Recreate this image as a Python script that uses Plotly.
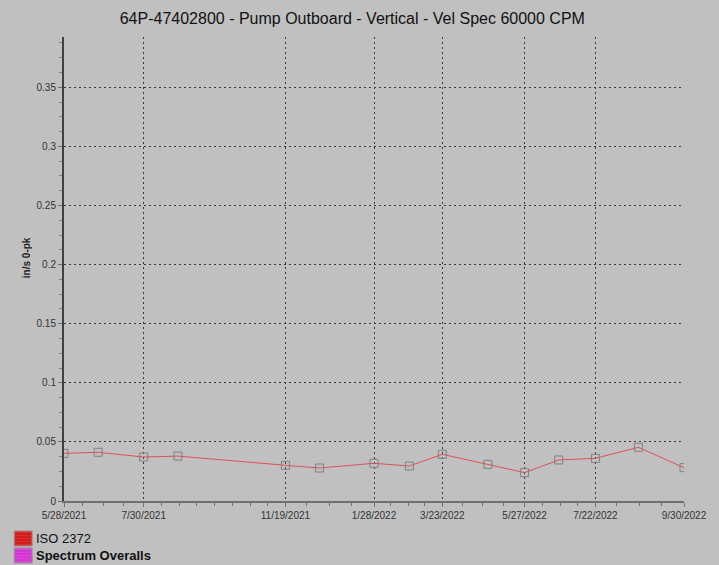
import plotly.graph_objects as go
from datetime import date, timedelta

# ---- data ----
dates = ["2021-05-28", "2021-06-24", "2021-07-30", "2021-08-26", "2021-11-19",
         "2021-12-16", "2022-01-28", "2022-02-25", "2022-03-23", "2022-04-28",
         "2022-05-27", "2022-06-23", "2022-07-22", "2022-08-25", "2022-09-30"]
values = [0.0403, 0.0412, 0.0372, 0.0380, 0.0302,
          0.0279, 0.0319, 0.0296, 0.0395, 0.0310,
          0.0240, 0.0347, 0.0361, 0.0454, 0.0282]

tick_dates = ["2021-05-28", "2021-07-30", "2021-11-19", "2022-01-28",
              "2022-03-23", "2022-05-27", "2022-07-22", "2022-09-30"]
tick_labels = ["5/28/2021", "7/30/2021", "11/19/2021", "1/28/2022",
               "3/23/2022", "5/27/2022", "7/22/2022", "9/30/2022"]
minor_splits = [4, 8, 4, 4, 4, 4, 4]

title_text = "64P-47402800 - Pump Outboard - Vertical - Vel Spec 60000 CPM"
y_title = "in/s 0-pk"
legend_items = ["ISO 2372", "Spectrum Overalls"]
legend_colors = ["#E82828", "#E040E0"]

# minor tick positions: even subdivisions between labelled ticks
minor_vals = []
for i in range(len(tick_dates) - 1):
    a = date.fromisoformat(tick_dates[i])
    b = date.fromisoformat(tick_dates[i + 1])
    n = minor_splits[i]
    span = (b - a).days
    for k in range(1, n):
        minor_vals.append((a + timedelta(days=span * k / n)).isoformat())

W, H = 719, 565
L, R, T, B = 64, 32, 37, 64
BG = "#C0C0C0"
GRID_DASH = "2px,3px"

fig = go.Figure()
fig.add_trace(go.Scatter(
    x=dates, y=values, mode="lines+markers",
    line=dict(color="#E05050", width=1),
    marker=dict(symbol="square-open", size=8, color="#808080",
                line=dict(width=1, color="#808080")),
    showlegend=False, hoverinfo="x+y"))

fig.update_layout(
    width=W, height=H,
    margin=dict(l=L, r=R, t=T, b=B, pad=0),
    paper_bgcolor=BG, plot_bgcolor=BG,
    font=dict(family="Liberation Sans, Arial, sans-serif", size=10, color="#333333"),
    title=dict(text=title_text, x=0.49, xanchor="center", y=1 - 18 / H, yanchor="middle",
               font=dict(size=16, color="#111111")),
    showlegend=False,
)

fig.update_xaxes(
    type="date", range=["2021-05-28", "2022-09-30"],
    tickmode="array", tickvals=tick_dates, ticktext=tick_labels,
    ticks="outside", ticklen=4, tickcolor="#707070", tickwidth=1,
    showgrid=True, gridcolor="#383838", griddash=GRID_DASH, gridwidth=1,
    showline=True, linecolor="#707070", linewidth=2,
    zeroline=False, tickangle=0,
    tickfont=dict(size=10, color="#333333"),
    minor=dict(tickmode="array", tickvals=minor_vals, ticks="outside",
               ticklen=3, tickcolor="#707070", showgrid=False),
)
fig.update_yaxes(
    range=[0, 0.3925],
    tickmode="linear", tick0=0, dtick=0.05,
    tickformat="~g",
    ticks="outside", ticklen=4, tickcolor="#707070",
    showgrid=True, gridcolor="#383838", griddash=GRID_DASH, gridwidth=1,
    showline=True, linecolor="#404040", linewidth=2,
    zeroline=False,
    tickfont=dict(size=10, color="#333333"),
    minor=dict(dtick=0.0125, tick0=0, ticks="outside", ticklen=3,
               tickcolor="#808080", showgrid=False),
)

pw, ph = W - L - R, H - T - B
def px2x(px):
    return (px - L) / pw
def px2y(py):
    return (H - B - py) / ph

# y-axis title
fig.add_annotation(text="<b>" + y_title + "</b>", xref="paper", yref="paper",
                   x=px2x(26), y=px2y(258), xanchor="center", yanchor="middle",
                   textangle=-90, showarrow=False,
                   font=dict(size=10, color="#222222"))

# legend (bottom-left) drawn as swatches + labels
tops = [531, 548]
for name, col, top, bold in zip(legend_items, legend_colors, tops, [False, True]):
    fig.add_shape(type="rect", xref="paper", yref="paper",
                  x0=px2x(14), x1=px2x(32), y0=px2y(top + 15), y1=px2y(top),
                  fillcolor=col, line=dict(color="#909090", width=1))
    for s in range(1, 5):
        yy = top + s * 3
        fig.add_shape(type="line", xref="paper", yref="paper",
                      x0=px2x(15), x1=px2x(31), y0=px2y(yy), y1=px2y(yy),
                      line=dict(color="#B01818" if not bold else "#C030C0", width=1))
    fig.add_annotation(text=("<b>%s</b>" % name) if bold else name,
                       xref="paper", yref="paper",
                       x=px2x(34), y=px2y(top + 7.5), xanchor="left", yanchor="middle",
                       showarrow=False, font=dict(size=13, color="#111111"))

fig.write_html(
    "out.html",
    config={"displayModeBar": False},
    post_script="document.body.style.margin='0';document.body.style.padding='0';"
                "document.body.style.background='#C0C0C0';"
                "document.body.style.overflow='hidden';",
)
